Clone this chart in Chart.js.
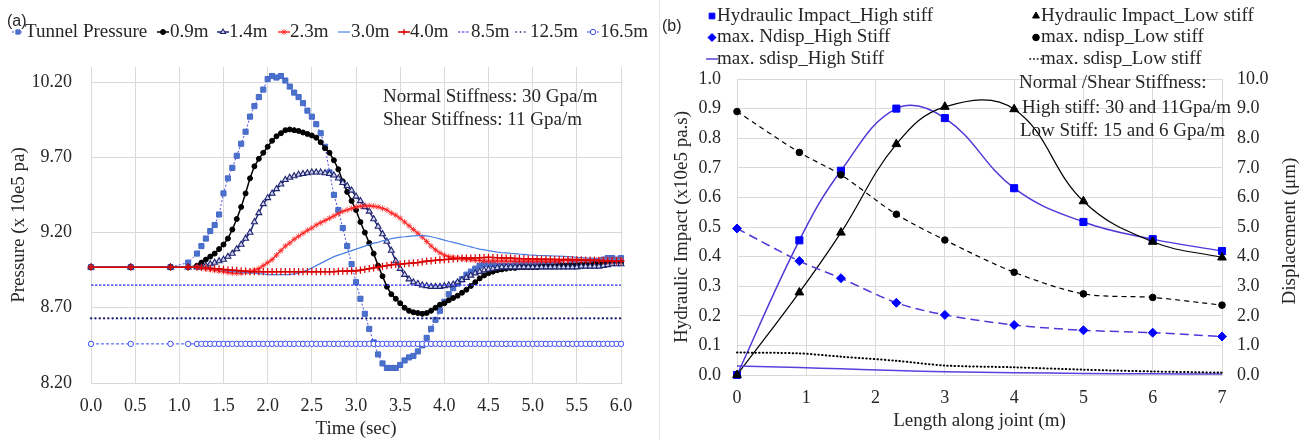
<!DOCTYPE html>
<html><head><meta charset="utf-8">
<script src="https://cdn.jsdelivr.net/npm/chart.js@4.4.1/dist/chart.umd.min.js"></script>
<style>
html,body{margin:0;padding:0;background:#fff;}
#wrap{position:relative;width:1304px;height:440px;overflow:hidden;background:#fff;}
#pa{position:absolute;left:0;top:0;width:650px;height:440px;}
#pb{position:absolute;left:650px;top:0;width:654px;height:440px;}
#sep{position:absolute;left:659px;top:0;width:1px;height:440px;background:#e6e6e6;}
</style></head><body>
<div id="wrap">
<div id="pa"><canvas id="ca" width="650" height="440"></canvas></div>
<div id="pb"><canvas id="cb" width="654" height="440"></canvas></div>
<div id="sep"></div>
</div>
<script>
// ---------------- Panel (a) data ----------------
const timeSec = [
 0,0.45,0.9,1.1,1.2,1.25,1.3,1.35,1.4,1.45,
 1.5,1.55,1.6,1.65,1.7,1.75,1.8,1.85,1.9,1.95,
 2.0,2.05,2.1,2.15,2.2,2.25,2.3,2.35,2.4,2.45,
 2.5,2.55,2.6,2.65,2.7,2.75,2.8,2.85,2.9,2.95,
 3.0,3.05,3.1,3.15,3.2,3.25,3.3,3.35,3.4,3.45,
 3.5,3.55,3.6,3.65,3.7,3.75,3.8,3.85,3.9,3.95,
 4.0,4.05,4.1,4.15,4.2,4.25,4.3,4.35,4.4,4.45,
 4.5,4.55,4.6,4.65,4.7,4.75,4.8,4.85,4.9,4.95,
 5.0,5.05,5.1,5.15,5.2,5.25,5.3,5.35,5.4,5.45,
 5.5,5.55,5.6,5.65,5.7,5.75,5.8,5.85,5.9,5.95,
 6.0];
const tunnelPressure = [
 8.97,8.97,8.97,9.00,9.06,9.11,9.16,9.21,9.25,9.32,
 9.46,9.56,9.63,9.71,9.79,9.87,9.97,10.04,10.10,10.15,
 10.22,10.24,10.23,10.24,10.21,10.17,10.13,10.10,10.06,10.01,
 9.97,9.92,9.86,9.77,9.60,9.45,9.35,9.23,9.11,8.99,
 8.87,8.76,8.66,8.56,8.47,8.39,8.33,8.30,8.30,8.30,
 8.32,8.35,8.37,8.38,8.41,8.45,8.50,8.56,8.62,8.68,
 8.74,8.79,8.83,8.86,8.89,8.92,8.94,8.96,8.98,8.99,
 8.99,8.99,8.98,8.98,8.98,8.98,8.99,8.99,8.99,8.99,
 8.99,8.99,8.99,8.99,8.99,8.99,8.99,8.98,8.98,8.99,
 8.99,8.98,8.99,9.00,9.00,9.01,9.02,9.03,9.03,9.02,
 9.03];
const p0_9m = [
 8.97,8.97,8.97,8.97,8.98,9.00,9.02,9.04,9.06,9.09,
 9.12,9.16,9.22,9.29,9.37,9.46,9.56,9.64,9.69,9.73,
 9.77,9.81,9.84,9.86,9.88,9.885,9.88,9.875,9.865,9.855,
 9.845,9.83,9.80,9.76,9.73,9.68,9.62,9.54,9.47,9.41,
 9.35,9.27,9.20,9.13,9.06,8.98,8.91,8.84,8.79,8.76,
 8.73,8.70,8.68,8.67,8.665,8.66,8.665,8.68,8.70,8.72,
 8.73,8.75,8.765,8.78,8.80,8.82,8.845,8.87,8.895,8.915,
 8.93,8.94,8.95,8.955,8.96,8.965,8.965,8.97,8.97,8.97,
 8.97,8.97,8.975,8.975,8.975,8.975,8.98,8.98,8.98,8.98,
 8.98,8.985,8.985,8.985,8.99,8.99,8.99,8.995,9.00,9.00,
 9.00];
const p1_4m = [
 8.97,8.97,8.97,8.97,8.97,8.97,8.98,8.99,9.00,9.01,
 9.02,9.04,9.06,9.09,9.12,9.16,9.20,9.27,9.33,9.39,
 9.43,9.46,9.49,9.52,9.55,9.565,9.575,9.585,9.59,9.595,
 9.60,9.60,9.60,9.595,9.59,9.58,9.56,9.53,9.51,9.48,
 9.44,9.41,9.37,9.34,9.29,9.24,9.19,9.14,9.08,9.01,
 8.96,8.92,8.89,8.87,8.86,8.85,8.845,8.84,8.84,8.84,
 8.845,8.85,8.855,8.87,8.885,8.90,8.915,8.93,8.94,8.95,
 8.955,8.96,8.965,8.97,8.97,8.97,8.97,8.97,8.97,8.97,
 8.97,8.97,8.97,8.97,8.97,8.97,8.97,8.97,8.97,8.97,
 8.97,8.975,8.975,8.975,8.975,8.975,8.98,8.985,8.99,8.99,
 8.99];
const p2_3m = [
 8.97,8.97,8.97,8.97,8.97,8.965,8.96,8.955,8.95,8.945,
 8.94,8.935,8.93,8.93,8.93,8.935,8.94,8.95,8.96,8.98,
 9.00,9.02,9.05,9.08,9.11,9.13,9.155,9.175,9.195,9.215,
 9.23,9.25,9.265,9.28,9.295,9.31,9.325,9.34,9.35,9.36,
 9.37,9.375,9.378,9.378,9.375,9.37,9.36,9.35,9.33,9.315,
 9.295,9.27,9.245,9.22,9.195,9.17,9.14,9.11,9.085,9.065,
 9.05,9.04,9.035,9.03,9.025,9.02,9.02,9.015,9.015,9.01,
 9.01,9.01,9.01,9.01,9.01,9.01,9.01,9.01,9.01,9.01,
 9.01,9.01,9.01,9.01,9.01,9.01,9.01,9.015,9.015,9.015,
 9.015,9.015,9.015,9.015,9.02,9.02,9.02,9.02,9.02,9.02,
 9.02];
const p3_0m = [
 8.97,8.97,8.97,8.97,8.97,8.97,8.97,8.965,8.96,8.955,
 8.95,8.945,8.94,8.94,8.935,8.935,8.93,8.93,8.925,8.925,
 8.92,8.92,8.92,8.92,8.92,8.92,8.925,8.93,8.94,8.95,
 8.965,8.98,8.995,9.01,9.025,9.04,9.05,9.06,9.07,9.08,
 9.09,9.10,9.11,9.12,9.13,9.135,9.145,9.15,9.16,9.165,
 9.17,9.172,9.175,9.178,9.18,9.18,9.178,9.172,9.165,9.158,
 9.15,9.142,9.135,9.128,9.12,9.112,9.105,9.097,9.09,9.085,
 9.08,9.075,9.07,9.067,9.065,9.062,9.06,9.057,9.055,9.052,
 9.05,9.048,9.047,9.046,9.045,9.044,9.043,9.042,9.04,9.038,
 9.035,9.033,9.031,9.03,9.028,9.026,9.025,9.024,9.022,9.021,
 9.02];
const p4_0m = [
 8.97,8.97,8.97,8.97,8.97,8.968,8.965,8.962,8.96,8.958,
 8.955,8.952,8.95,8.948,8.945,8.943,8.94,8.94,8.94,8.94,
 8.94,8.94,8.94,8.94,8.94,8.94,8.94,8.94,8.94,8.94,
 8.94,8.94,8.94,8.94,8.94,8.94,8.942,8.943,8.944,8.945,
 8.945,8.95,8.955,8.96,8.965,8.97,8.975,8.98,8.985,8.988,
 8.99,8.993,8.995,8.998,9.00,9.005,9.01,9.012,9.015,9.018,
 9.02,9.022,9.025,9.027,9.03,9.03,9.03,9.032,9.033,9.034,
 9.035,9.034,9.033,9.032,9.03,9.03,9.028,9.027,9.026,9.025,
 9.025,9.024,9.023,9.022,9.022,9.021,9.02,9.02,9.02,9.02,
 9.02,9.018,9.017,9.016,9.015,9.014,9.013,9.012,9.011,9.01,
 9.01];
const p8_5m = [
 8.85,8.85,8.85,8.85,8.85,8.85,8.85,8.85,8.85,8.85,
 8.85,8.85,8.85,8.85,8.85,8.85,8.85,8.85,8.85,8.85,
 8.85,8.85,8.85,8.85,8.85,8.85,8.85,8.85,8.85,8.85,
 8.85,8.85,8.85,8.85,8.85,8.85,8.85,8.85,8.85,8.85,
 8.85,8.85,8.85,8.85,8.85,8.85,8.85,8.85,8.85,8.85,
 8.85,8.85,8.85,8.85,8.85,8.85,8.85,8.85,8.85,8.85,
 8.85,8.85,8.85,8.85,8.85,8.85,8.85,8.85,8.85,8.85,
 8.85,8.85,8.85,8.85,8.85,8.85,8.85,8.85,8.85,8.85,
 8.85,8.85,8.85,8.85,8.85,8.85,8.85,8.85,8.85,8.85,
 8.85,8.85,8.85,8.85,8.85,8.85,8.85,8.85,8.85,8.85,
 8.85];
const p12_5m = [
 8.63,8.63,8.63,8.63,8.63,8.63,8.63,8.63,8.63,8.63,
 8.63,8.63,8.63,8.63,8.63,8.63,8.63,8.63,8.63,8.63,
 8.63,8.63,8.63,8.63,8.63,8.63,8.63,8.63,8.63,8.63,
 8.63,8.63,8.63,8.63,8.63,8.63,8.63,8.63,8.63,8.63,
 8.63,8.63,8.63,8.63,8.63,8.63,8.63,8.63,8.63,8.63,
 8.63,8.63,8.63,8.63,8.63,8.63,8.63,8.63,8.63,8.63,
 8.63,8.63,8.63,8.63,8.63,8.63,8.63,8.63,8.63,8.63,
 8.63,8.63,8.63,8.63,8.63,8.63,8.63,8.63,8.63,8.63,
 8.63,8.63,8.63,8.63,8.63,8.63,8.63,8.63,8.63,8.63,
 8.63,8.63,8.63,8.63,8.63,8.63,8.63,8.63,8.63,8.63,
 8.63];
const p16_5m = [
 8.46,8.46,8.46,8.46,8.46,8.46,8.46,8.46,8.46,8.46,
 8.46,8.46,8.46,8.46,8.46,8.46,8.46,8.46,8.46,8.46,
 8.46,8.46,8.46,8.46,8.46,8.46,8.46,8.46,8.46,8.46,
 8.46,8.46,8.46,8.46,8.46,8.46,8.46,8.46,8.46,8.46,
 8.46,8.46,8.46,8.46,8.46,8.46,8.46,8.46,8.46,8.46,
 8.46,8.46,8.46,8.46,8.46,8.46,8.46,8.46,8.46,8.46,
 8.46,8.46,8.46,8.46,8.46,8.46,8.46,8.46,8.46,8.46,
 8.46,8.46,8.46,8.46,8.46,8.46,8.46,8.46,8.46,8.46,
 8.46,8.46,8.46,8.46,8.46,8.46,8.46,8.46,8.46,8.46,
 8.46,8.46,8.46,8.46,8.46,8.46,8.46,8.46,8.46,8.46,
 8.46];
const seriesLabelsA = ['Tunnel Pressure','0.9m','1.4m','2.3m','3.0m','4.0m','8.5m','12.5m','16.5m'];
const xTicksA = [0,0.5,1,1.5,2,2.5,3,3.5,4,4.5,5,5.5,6];
const yTicksA = [8.2,8.7,9.2,9.7,10.2];

// ---------------- Panel (b) data ----------------
const lengthJoint = [0,0.9,1.5,2.3,3,4,5,6,7];
const hydImpactHigh = [0,0.455,0.69,0.90,0.868,0.631,0.517,0.459,0.419];
const hydImpactLow  = [0,0.279,0.481,0.78,0.906,0.898,0.587,0.45,0.397];
const ndispHigh = [4.95,3.85,3.27,2.44,2.03,1.69,1.51,1.43,1.30];
const ndispLow  = [8.90,7.52,6.76,5.43,4.56,3.47,2.74,2.62,2.36];
const sdispHigh = [0.30,0.25,0.21,0.15,0.11,0.08,0.05,0.04,0.03];
const sdispLow  = [0.76,0.73,0.62,0.48,0.32,0.26,0.18,0.12,0.08];
const seriesLabelsB = ['Hydraulic Impact_High stiff','Hydraulic Impact_Low stiff','max. Ndisp_High Stiff','max. ndisp_Low stiff','max. sdisp_High Stiff','max. sdisp_Low stiff'];
const xTicksB = [0,1,2,3,4,5,6,7];
const yTicksB = [0,0.1,0.2,0.3,0.4,0.5,0.6,0.7,0.8,0.9,1.0];
const y2TicksB = [0,1,2,3,4,5,6,7,8,9,10];

// ---------------- common ----------------
const SERIF = '"Liberation Serif", "Times New Roman", serif';
Chart.defaults.font.family = SERIF;
Chart.defaults.color = '#262626';
const GRID = '#d9d9d9';
const TXT = '#262626';

function ptsA(vals){ return timeSec.map((t,i)=>({x:t,y:vals[i]})); }
function ptsB(vals){ return lengthJoint.map((t,i)=>({x:t,y:vals[i]})); }

const stylesA = [
 {borderColor:'#4646e0',borderWidth:1,borderDash:[2,2],pointStyle:'rect',pointRadius:3.6,pointBackgroundColor:'#4a72cc',pointBorderColor:'#4468c8',pointBorderWidth:1},
 {borderColor:'#000000',borderWidth:1.5,pointStyle:'circle',pointRadius:2.5,pointBackgroundColor:'#000000',pointBorderColor:'#000000',pointBorderWidth:1},
 {borderColor:'#1f2470',borderWidth:1.5,pointStyle:'triangle',pointRadius:3.4,pointBackgroundColor:'#d4d7ee',pointBorderColor:'#1f2470',pointBorderWidth:1.1},
 {borderColor:'#ff1f1f',borderWidth:1.4,pointStyle:'star',pointRadius:3,pointBackgroundColor:'#ff1f1f',pointBorderColor:'#ff2a2a',pointBorderWidth:0.8},
 {borderColor:'#4a80e0',borderWidth:1.2,pointStyle:'circle',pointRadius:0,pointBackgroundColor:'#4a80e0',pointBorderColor:'#4a80e0',pointBorderWidth:0},
 {borderColor:'#d80000',borderWidth:1.5,pointStyle:'cross',pointRadius:3.6,pointBackgroundColor:'#d80000',pointBorderColor:'#d80000',pointBorderWidth:1.2},
 {borderColor:'#2c2cee',borderWidth:1.2,borderDash:[2.5,1.5],pointStyle:'circle',pointRadius:0,pointBackgroundColor:'#2c2cee',pointBorderColor:'#2c2cee',pointBorderWidth:0},
 {borderColor:'#1c1c74',borderWidth:2.2,borderDash:[0.3,4],borderCapStyle:'round',pointStyle:'circle',pointRadius:0,pointBackgroundColor:'#1c1c74',pointBorderColor:'#1c1c74',pointBorderWidth:0},
 {borderColor:'#3a4ef0',borderWidth:1,borderDash:[3,2],pointStyle:'circle',pointRadius:2.7,pointBackgroundColor:'#ffffff',pointBorderColor:'#3a4ef0',pointBorderWidth:1}
];
const valuesA = [tunnelPressure,p0_9m,p1_4m,p2_3m,p3_0m,p4_0m,p8_5m,p12_5m,p16_5m];
const datasetsA = valuesA.map((v,i)=>Object.assign({
  label:seriesLabelsA[i], data:ptsA(v), tension:0, fill:false, clip:8, order:valuesA.length-i
}, stylesA[i]));

const legendPosA = [[18,25],[163,170],[223,229],[284,290],[344,351],[404,410],[464,471],[522,530],[593,600]];

function drawLegendSymbol(ctx, ds, cx, y, withLine, maxR){
  ctx.save();
  if(withLine){
    ctx.strokeStyle=ds.borderColor; ctx.lineWidth=Math.min(ds.borderWidth,1.6);
    ctx.setLineDash(ds.borderDash||[]); ctx.lineCap=ds.borderCapStyle||'butt';
    ctx.beginPath(); ctx.moveTo(cx-6,y); ctx.lineTo(cx+6,y); ctx.stroke();
    ctx.setLineDash([]);
  }
  if(ds.pointRadius>0){
    ctx.fillStyle=ds.pointBackgroundColor; ctx.strokeStyle=ds.pointBorderColor; ctx.lineWidth=ds.pointBorderWidth;
    Chart.helpers.drawPoint(ctx,{pointStyle:ds.pointStyle,radius:Math.min(ds.pointRadius,maxR),borderWidth:ds.pointBorderWidth,rotation:0},cx,y);
  }
  ctx.restore();
}

const decorA = {
  id:'decorA',
  afterDraw(chart){
    const ctx=chart.ctx; ctx.save();
    ctx.font='19px '+SERIF; ctx.textBaseline='middle'; ctx.fillStyle=TXT; ctx.textAlign='left';
    chart.data.datasets.forEach((ds,i)=>{
      const [cx,tx]=legendPosA[i];
      drawLegendSymbol(ctx,ds,cx,32,true,3);
      ctx.fillStyle=TXT; ctx.fillText(ds.label,tx,32);
    });
    ctx.fillText('Normal Stiffness: 30 Gpa/m',383,97);
    ctx.fillText('Shear Stiffness: 11 Gpa/m',383,120);
    ctx.font='16px "Liberation Sans", Arial, sans-serif';
    ctx.fillText('(a)',7,22);
    ctx.restore();
  }
};

new Chart(document.getElementById('ca'),{
  type:'line',
  data:{datasets:datasetsA},
  options:{
    responsive:false, animation:false, events:[],
    layout:{padding:{top:67,right:29,left:0,bottom:0}},
    plugins:{legend:{display:false},tooltip:{enabled:false}},
    scales:{
      x:{type:'linear',min:0,max:6,
        afterBuildTicks(s){ s.ticks = xTicksA.map(v=>({value:v})); },
        afterFit(s){ s.height = 57; },
        ticks:{callback:v=>Number(v).toFixed(1),font:{size:18},color:TXT,padding:12,maxRotation:0,autoSkip:false},
        grid:{color:GRID,drawTicks:false},border:{color:GRID},
        title:{display:true,text:'Time (sec)',font:{size:19},color:TXT,padding:{top:0,bottom:0}}},
      y:{type:'linear',min:8.2,max:10.3,
        afterBuildTicks(s){ s.ticks = yTicksA.map(v=>({value:v})); },
        afterFit(s){ s.width = 91; },
        ticks:{callback:v=>Number(v).toFixed(2),font:{size:18},color:TXT,padding:19},
        grid:{color:GRID,drawTicks:false},border:{display:false},
        title:{display:true,text:'Pressure (x 10e5 pa)',font:{size:19},color:TXT,padding:{top:8,bottom:0}}}
    }
  },
  plugins:[decorA]
});

// ---------------- Panel (b) ----------------
const stylesB = [
 {yAxisID:'y',borderColor:'#5038d8',borderWidth:1.5,pointStyle:'rect',pointRadius:5,pointBackgroundColor:'#0000ff',pointBorderColor:'#0000ff',pointBorderWidth:1,tension:0.4},
 {yAxisID:'y',borderColor:'#000000',borderWidth:1.2,pointStyle:'triangle',pointRadius:5,pointBackgroundColor:'#000000',pointBorderColor:'#000000',pointBorderWidth:1,tension:0.4},
 {yAxisID:'y1',borderColor:'#5038d8',borderWidth:1.5,borderDash:[9,5],pointStyle:'rectRot',pointRadius:4.5,pointBackgroundColor:'#0000ff',pointBorderColor:'#0000ff',pointBorderWidth:1,tension:0.3},
 {yAxisID:'y1',borderColor:'#000000',borderWidth:1.2,borderDash:[5,4],pointStyle:'circle',pointRadius:3.3,pointBackgroundColor:'#000000',pointBorderColor:'#000000',pointBorderWidth:1,tension:0.3},
 {yAxisID:'y1',borderColor:'#5a40dc',borderWidth:1.5,pointStyle:'circle',pointRadius:0,pointBackgroundColor:'#5a40dc',pointBorderColor:'#5a40dc',pointBorderWidth:0,tension:0.3},
 {yAxisID:'y1',borderColor:'#000000',borderWidth:2,borderDash:[0.5,3.2],borderCapStyle:'round',pointStyle:'circle',pointRadius:0,pointBackgroundColor:'#000000',pointBorderColor:'#000000',pointBorderWidth:0,tension:0.3}
];
const valuesB = [hydImpactHigh,hydImpactLow,ndispHigh,ndispLow,sdispHigh,sdispLow];
const datasetsB = valuesB.map((v,i)=>Object.assign({
  label:seriesLabelsB[i], data:ptsB(v), fill:false, clip:8, order:valuesB.length-i
}, stylesB[i]));

// legend layout: [symbolCenterX, textX, rowY] in canvas coords
const legendPosB = [[62,67,16],[386,391,16],[62,67,37.5],[386,391,37.5],[62,67,59],[386,391,59]];

const decorB = {
  id:'decorB',
  afterDraw(chart){
    const ctx=chart.ctx; ctx.save();
    ctx.font='19px '+SERIF; ctx.textBaseline='middle'; ctx.fillStyle=TXT; ctx.textAlign='left';
    chart.data.datasets.forEach((ds,i)=>{
      const [cx,tx,y]=legendPosB[i];
      drawLegendSymbol(ctx,ds,cx,y,ds.pointRadius===0,4);
      ctx.fillStyle=TXT; ctx.fillText(ds.label,tx,y);
    });
    ctx.fillText('Normal /Shear Stiffness:',369,83);
    ctx.fillText('High stiff: 30 and 11Gpa/m',372,108);
    ctx.fillText('Low Stiff: 15 and 6 Gpa/m',370,131);
    // right axis title, reading bottom-to-top
    ctx.save();
    ctx.translate(chart.chartArea.right+68,231);
    ctx.rotate(-Math.PI/2);
    ctx.textAlign='center';
    ctx.fillText('Displacement (\u03bcm)',0,0);
    ctx.restore();
    ctx.font='16px "Liberation Sans", Arial, sans-serif';
    ctx.fillText('(b)',12,27);
    ctx.restore();
  }
};

new Chart(document.getElementById('cb'),{
  type:'line',
  data:{datasets:datasetsB},
  options:{
    responsive:false, animation:false, events:[],
    layout:{padding:{top:79,right:0,left:0,bottom:0}},
    plugins:{legend:{display:false},tooltip:{enabled:false}},
    scales:{
      x:{type:'linear',min:0,max:7,
        afterBuildTicks(s){ s.ticks = xTicksB.map(v=>({value:v})); },
        afterFit(s){ s.height = 65; },
        ticks:{callback:v=>String(v),font:{size:18},color:TXT,padding:12,maxRotation:0,autoSkip:false},
        grid:{color:GRID,drawTicks:false},border:{color:GRID},
        title:{display:true,text:'Length along joint (m)',font:{size:19},color:TXT,padding:{top:0,bottom:8}}},
      y:{type:'linear',position:'left',min:0,max:1,
        afterBuildTicks(s){ s.ticks = yTicksB.map(v=>({value:v})); },
        afterFit(s){ s.width = 87; },
        ticks:{callback:v=>Number(v).toFixed(1),font:{size:18},color:TXT,padding:16},
        grid:{color:GRID,drawTicks:false},border:{display:false},
        title:{display:true,text:'Hydraulic Impact (x10e5 pa.s)',font:{size:19},color:TXT,padding:{top:21,bottom:0}}},
      y1:{type:'linear',position:'right',min:0,max:10,
        afterBuildTicks(s){ s.ticks = y2TicksB.map(v=>({value:v})); },
        afterFit(s){ s.width = 82; },
        ticks:{callback:v=>Number(v).toFixed(1),font:{size:18},color:TXT,padding:15},
        grid:{display:false,drawTicks:false},border:{display:false}}
    }
  },
  plugins:[decorB]
});
</script>
</body></html>
